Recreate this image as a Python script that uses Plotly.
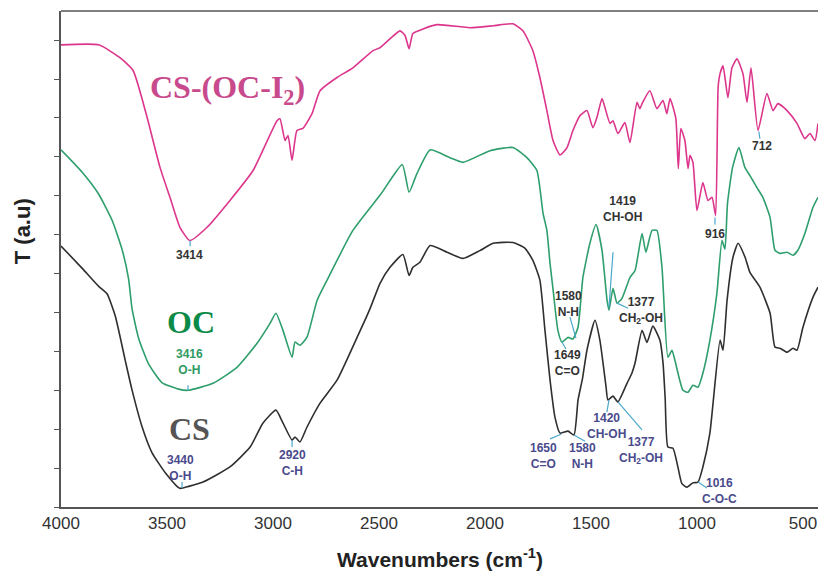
import plotly.graph_objects as go

# ---------------- data (wavenumber cm-1, transmittance a.u.) ----------------
wn_cs = [4000, 3901, 3822, 3783, 3744, 3697, 3665, 3618, 3571, 3508, 3440, 3398, 3330, 3203,
         3108, 3047, 2986, 2953, 2910, 2896, 2873, 2840, 2778, 2698, 2600, 2542, 2495, 2448,
         2387, 2358, 2340, 2307, 2259, 2179, 2104, 2024, 1962, 1868, 1811, 1774, 1741, 1717,
         1693, 1670, 1646, 1608, 1580, 1561, 1540, 1519, 1481, 1458, 1429, 1420, 1396, 1373,
         1330, 1307, 1292, 1259, 1236, 1208, 1175, 1160, 1150, 1137, 1113, 1090, 1071, 1047,
         1019, 995, 972, 939, 891, 877, 858, 830, 806, 773, 750, 703, 655, 632, 608, 575, 547,
         528, 500, 453, 429]
t_cs = [67.1, 61.4, 56.7, 54.8, 49.1, 37.7, 30.1, 20.7, 14.0, 8.8, 4.8, 5.3, 6.4, 10.3,
        15.4, 21.6, 24.9, 21.6, 17.2, 18.0, 16.7, 20.5, 26.7, 32.6, 44.0, 51.0, 57.5, 61.6,
        64.9, 59.5, 61.6, 62.9, 67.2, 65.5, 63.9, 65.9, 67.8, 68.0, 66.5, 63.4, 58.3, 45.4,
        32.6, 23.1, 19.0, 19.5, 18.5, 27.5, 33.0, 40.3, 48.0, 42.9, 31.0, 27.5, 28.5, 27.0,
        31.8, 34.4, 37.0, 45.4, 42.3, 46.5, 42.9, 37.0, 28.0, 15.4, 15.1, 10.3, 6.0, 5.1,
        6.2, 6.4, 10.3, 19.0, 42.9, 40.3, 53.1, 64.2, 67.8, 64.2, 60.3, 56.5, 49.8, 41.1,
        40.8, 39.8, 40.8, 40.3, 46.2, 53.9, 56.5]

wn_oc = [4000, 3901, 3822, 3759, 3712, 3681, 3665, 3634, 3587, 3524, 3445, 3400, 3283, 3170,
         3075, 3014, 2986, 2953, 2910, 2896, 2873, 2840, 2792, 2745, 2623, 2490, 2390, 2358,
         2321, 2259, 2165, 2104, 1976, 1868, 1802, 1755, 1726, 1708, 1693, 1679, 1656, 1637,
         1608, 1585, 1561, 1538, 1505, 1476, 1448, 1424, 1415, 1396, 1377, 1354, 1330, 1316,
         1292, 1259, 1241, 1212, 1189, 1165, 1137, 1118, 1104, 1066, 1042, 1019, 995, 972,
         939, 906, 882, 868, 856, 832, 802, 774, 750, 717, 689, 655, 632, 608, 575, 547, 524,
         491, 453, 429]
t_oc = [91.8, 86.1, 80.4, 73.7, 66.2, 58.6, 51.0, 43.4, 36.8, 32.0, 30.3, 30.0, 31.8, 35.9,
        42.1, 47.2, 49.8, 45.4, 38.5, 42.4, 41.6, 43.6, 53.1, 58.3, 71.1, 80.5, 88.0, 80.9,
        85.7, 91.8, 89.8, 88.6, 91.6, 92.4, 89.8, 86.5, 75.5, 71.1, 62.6, 56.0, 45.4, 42.4,
        43.6, 43.2, 46.2, 59.0, 67.8, 72.6, 66.0, 53.1, 50.6, 56.2, 52.4, 53.6, 57.0, 59.0,
        60.8, 70.3, 65.5, 71.1, 71.1, 61.6, 38.5, 40.3, 37.7, 30.0, 29.5, 31.3, 30.8, 34.4,
        42.9, 54.9, 68.5, 66.3, 78.0, 87.3, 92.4, 87.3, 85.2, 82.1, 79.6, 74.4, 66.0, 65.2,
        65.5, 64.7, 66.0, 70.3, 77.0, 79.6]

wn_csoc = [4000, 3822, 3722, 3660, 3598, 3533, 3486, 3439, 3392, 3311, 3203, 3094, 2981, 2967,
           2943, 2929, 2910, 2887, 2859, 2816, 2778, 2698, 2623, 2528, 2495, 2401, 2377, 2358,
           2340, 2292, 2226, 2071, 1962, 1868, 1821, 1774, 1741, 1708, 1679, 1646, 1613, 1585,
           1552, 1519, 1491, 1472, 1448, 1434, 1410, 1396, 1373, 1340, 1316, 1283, 1269, 1259,
           1222, 1189, 1160, 1142, 1127, 1100, 1088, 1076, 1057, 1042, 1033, 1019, 1000, 972,
           948, 929, 912, 900, 891, 877, 854, 835, 811, 783, 764, 745, 712, 670, 641, 618, 575,
           528, 491, 467, 443, 429]
t_csoc = [118.8, 118.8, 115.5, 112.2, 101.0, 87.3, 79.6, 71.9, 68.5, 71.9, 78.8, 86.5, 99.3, 99.8,
          94.2, 95.5, 89.1, 96.8, 97.3, 101.1, 107.0, 110.4, 112.9, 117.3, 118.1, 122.4, 121.2, 117.8,
          121.7, 122.9, 124.0, 123.2, 123.7, 124.2, 122.4, 117.3, 110.4, 101.9, 94.2, 90.5, 92.4, 96.8,
          100.6, 101.9, 97.5, 100.1, 105.0, 102.7, 98.6, 99.3, 96.0, 98.8, 93.7, 104.0, 102.4, 103.7,
          107.0, 102.4, 104.5, 101.1, 105.0, 100.0, 87.0, 97.3, 94.2, 87.0, 90.4, 88.6, 76.2, 83.4,
          78.8, 79.6, 74.9, 108.0, 111.4, 113.4, 105.2, 112.9, 115.2, 111.4, 104.0, 112.9, 96.8, 106.3,
          101.9, 103.7, 101.9, 98.6, 94.7, 96.0, 94.2, 98.6]

x_ticks = [4000, 3500, 3000, 2500, 2000, 1500, 1000, 500]
y_ticks = [0, 10, 20, 30, 40, 50, 60, 70, 80, 90, 100, 110, 120]

series_names = ["CS", "OC", "CS-(OC-I<sub>2</sub>)"]

# peak labels: text, wavenumber, T position (centre of the label), colour key
peak_text = ["3414", "3416<br>O-H", "3440<br>O-H", "2920<br>C-H",
             "1580<br>N-H", "1649<br>C=O", "1419<br>CH-OH", "1377<br>CH<sub>2</sub>-OH",
             "1650<br>C=O", "1580<br>N-H", "1420<br>CH-OH", "1377<br>CH<sub>2</sub>-OH",
             "1016<br>C-O-C", "916", "712"]
peak_wn = [3396, 3392, 3438, 2910,
           1608, 1613, 1349, 1265,
           1726, 1538, 1425, 1262,
           892, 915, 693]
peak_t = [64.9, 37.4, 10.0, 11.3,
          52.3, 36.9, 76.7, 50.6,
          13.0, 13.0, 20.7, 14.5,
          4.1, 70.3, 92.9]
peak_col = ["d", "g", "n", "n",
            "d", "d", "d", "d",
            "n", "n", "n", "n",
            "n", "d", "d"]

# leader lines: (wn0, t0, wn1, t1)
lead_wn0 = [3391, 3401, 3429, 2910, 1599, 1637, 1396, 1377, 1693, 1580, 1415, 1373, 995, 915, 708]
lead_t0 = [68.5, 31.3, 6.4, 17.2, 48.8, 42.4, 65.5, 52.4, 17.5, 18.5, 27.5, 27.0, 6.4, 74.4, 96.5]
lead_wn1 = [3391, 3401, 3429, 2910, 1571, 1618, 1415, 1325, 1641, 1528, 1425, 1259, 953, 915, 703]
lead_t1 = [67.0, 30.0, 4.9, 15.4, 43.4, 40.6, 51.3, 51.1, 18.7, 16.9, 24.4, 19.8, 4.9, 72.6, 94.7]

# ---------------- figure ----------------
line_cols = ["#2f2f2f", "#2e9e6c", "#dc358c"]
name_cols = ["#555555", "#0c8a48", "#c84a8c"]
label_cols = {"d": "#333333", "n": "#4a4a8c", "g": "#2f9a62"}
sans = "Liberation Sans, Arial, sans-serif"

fig = go.Figure()
for wn, t, c in [(wn_cs, t_cs, line_cols[0]), (wn_oc, t_oc, line_cols[1]), (wn_csoc, t_csoc, line_cols[2])]:
    fig.add_trace(go.Scatter(x=wn, y=t, mode="lines",
                             line=dict(color=c, width=1.6, shape="spline", smoothing=0.5),
                             hoverinfo="skip"))

annotations = []
name_pos = [(3500, 20.0), (3509, 47.5), (3590, 107.3)]
for nm, (px, py), c in zip(series_names, name_pos, name_cols):
    annotations.append(dict(x=px, y=py, xref="x", yref="y", text="<b>%s</b>" % nm, showarrow=False,
                            xanchor="left", yanchor="middle",
                            font=dict(family="Liberation Serif, Times New Roman, serif", size=32, color=c)))
for txt, w, t, ck in zip(peak_text, peak_wn, peak_t, peak_col):
    annotations.append(dict(x=w, y=t, xref="x", yref="y", text="<b>%s</b>" % txt, showarrow=False,
                            xanchor="center", yanchor="middle", align="center",
                            font=dict(family=sans, size=12, color=label_cols[ck])))
annotations.append(dict(x=-0.0515, y=0.556, xref="paper", yref="paper", text="<b>T (a.u)</b>",
                        textangle=-90, showarrow=False, xanchor="center", yanchor="middle",
                        font=dict(family=sans, size=22, color="#222222")))
annotations.append(dict(x=0.5, y=-0.103, xref="paper", yref="paper", text="<b>Wavenumbers (cm<sup>-1</sup>)</b>",
                        showarrow=False, xanchor="center", yanchor="middle",
                        font=dict(family=sans, size=21, color="#222222")))

shapes = [dict(type="line", xref="paper", yref="paper", x0=0, x1=1, y0=1, y1=1,
               line=dict(color="#555555", width=1.5))]
for a, b, c, d in zip(lead_wn0, lead_t0, lead_wn1, lead_t1):
    shapes.append(dict(type="line", xref="x", yref="y", x0=a, y0=b, x1=c, y1=d,
                       line=dict(color="#4aa8cc", width=1.2)))

fig.update_layout(width=818, height=577, margin=dict(l=61, r=0, t=11, b=70),
                  plot_bgcolor="white", paper_bgcolor="white", showlegend=False,
                  annotations=annotations, shapes=shapes)
fig.update_xaxes(range=[4000, 429], tickvals=x_ticks, ticktext=[str(v) for v in x_ticks],
                 showline=True, linecolor="#555555", linewidth=1.5, ticks="",
                 showgrid=False, zeroline=False,
                 tickfont=dict(family=sans, size=17, color="#333333"))
fig.update_yaxes(range=[0, 127.5], tickvals=y_ticks, showticklabels=False, ticks="outside",
                 ticklen=5, tickwidth=1.2, tickcolor="#555555", showline=True, linecolor="#555555",
                 linewidth=1.5, showgrid=False, zeroline=False)

# remove the browser's default 8px page margin so the 818x577 figure fills the window exactly
fig.write_html("out.html", config={"displayModeBar": False},
               post_script="document.body.style.margin='0';document.body.style.overflow='hidden';")
